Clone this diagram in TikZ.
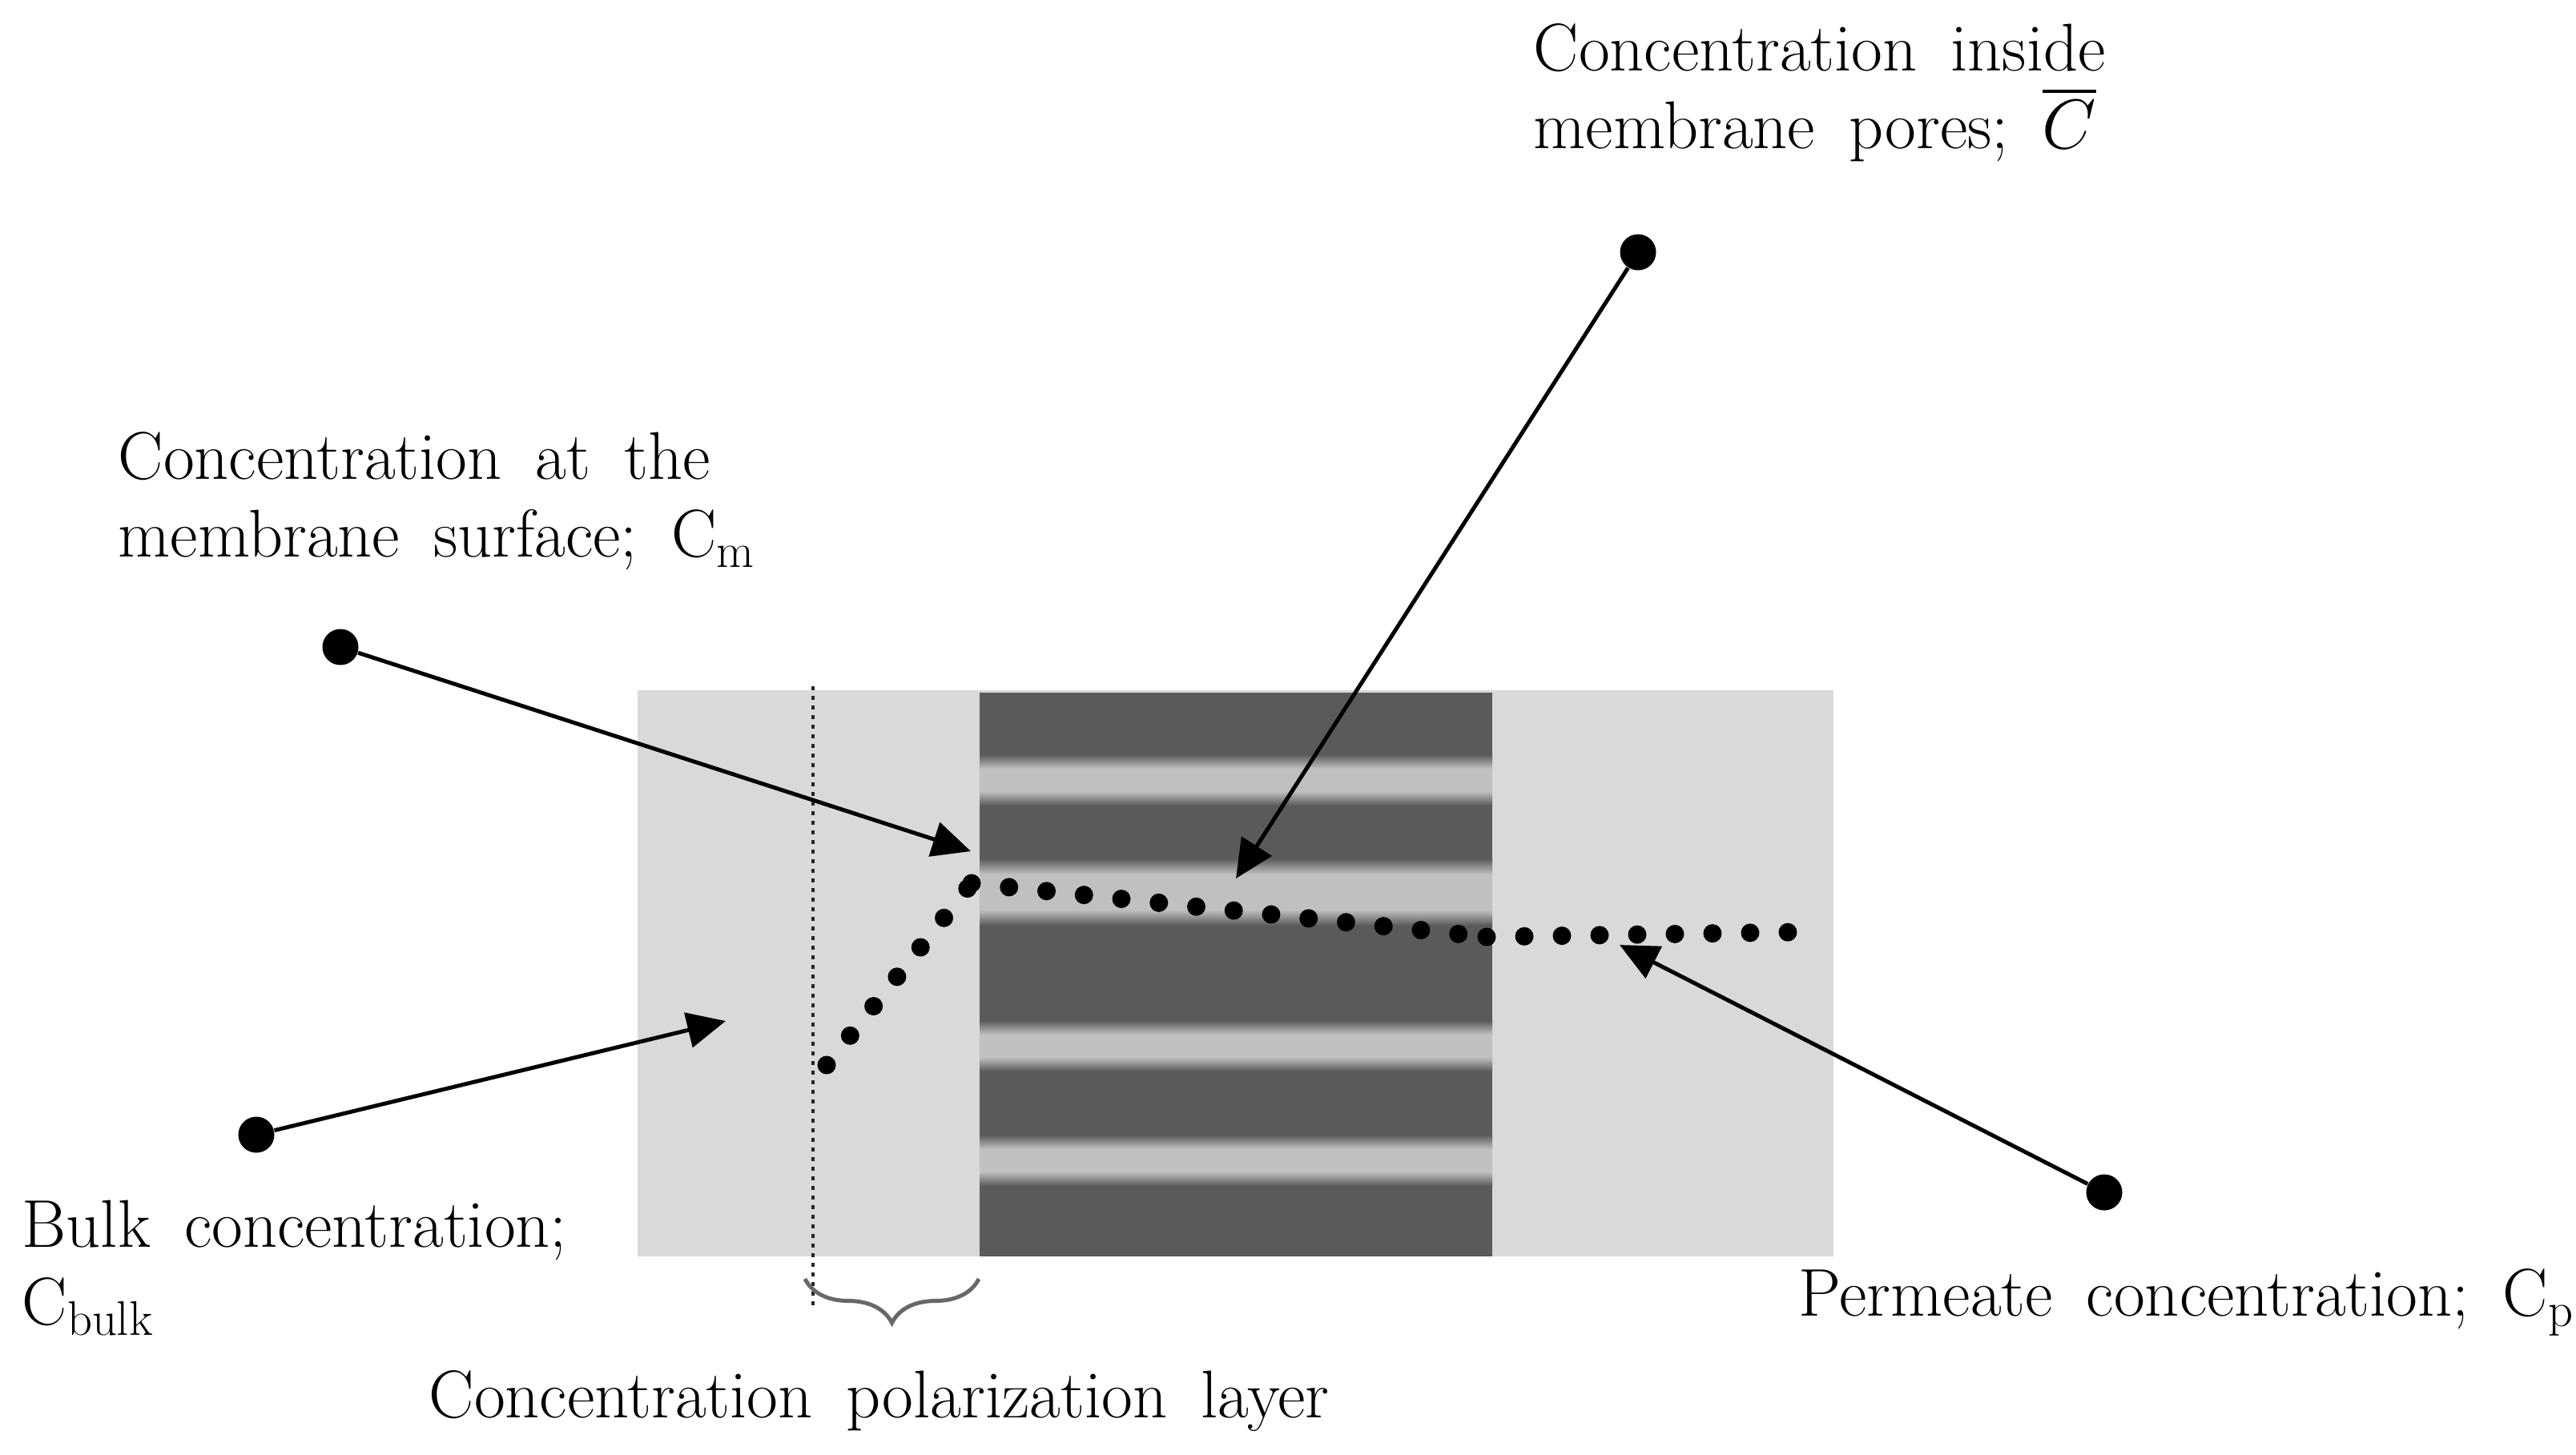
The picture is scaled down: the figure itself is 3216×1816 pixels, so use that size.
\documentclass[tikz,border=0pt]{standalone}
\usepackage{amsmath,amssymb}
\usepackage{tikz}
\usetikzlibrary{arrows.meta,positioning,decorations.pathreplacing}
\definecolor{MembDark}{HTML}{5A5A5A}
\definecolor{MembLight}{HTML}{C0C0C0}
\definecolor{SideGray}{HTML}{D9D9D9}
\definecolor{BraceGray}{HTML}{686868}

\tikzset{
  lbl/.style={font={\fontsize{24}{27.6}\selectfont\spaceskip=0.5em plus 0.1em minus 0.1em\relax}, inner sep=0pt, align=left},
  bigdot/.style={circle, fill=black, inner sep=0pt, minimum size=4.5mm},
  pointer/.style={line width=0.5mm, -{Triangle[length=4.8mm, width=4.4mm]}},
  conc/.style={line width=2.3mm, line cap=round, dash pattern=on 0pt off 4.7mm},
}

\begin{document}
\begin{tikzpicture}[x=0.1mm, y=-0.1mm]
\useasboundingbox (0,0) rectangle (3216,1816);

% Feed side, membrane and permeate side
\fill[SideGray] (796,862) rectangle (2289,1569);
\fill[MembDark] (1223,865) rectangle (1863,1569);

% Pores (light bands with soft edges)
\foreach \c/\p/\r in {974/14/18, 1114/22/20, 1306/14/18, 1449/14/18} {
  \shade[top color=MembDark, bottom color=MembLight] (1223,\c-\p-\r) rectangle (1863,\c-\p);
  \fill[MembLight] (1223,\c-\p) rectangle (1863,\c+\p);
  \shade[top color=MembLight, bottom color=MembDark] (1223,\c+\p) rectangle (1863,\c+\p+\r);
}

% Edge of the polarization layer
\draw[black!85, line width=0.35mm, dash pattern=on 0.5mm off 0.7mm] (1015,857) -- (1015,1630);

% Concentration profile
\coordinate (pBulk) at (1032,1330);
\coordinate (pWall) at (1213,1103);
\coordinate (pExit) at (1856,1170);
\coordinate (pEnd) at (2240,1164);
\draw[conc] (pBulk) -- (pWall);
\draw[conc] (pWall) -- (pExit);
\draw[conc] (pExit) -- (pEnd);

% Brace under the layer
\coordinate (brL) at (1005,1597);
\coordinate (brR) at (1222,1597);
\draw[BraceGray, line width=0.5mm, decorate, decoration={brace, mirror, amplitude=5.5mm}] (brL) -- (brR);

% Callouts
\node[bigdot] (dCm) at (425,808) {};
\node[bigdot] (dCbar) at (2045,315) {};
\node[bigdot] (dBulk) at (320,1417) {};
\node[bigdot] (dCp) at (2627,1489) {};
\coordinate (tCm) at (1212,1063);
\coordinate (tCbar) at (1543,1097);
\coordinate (tBulk) at (906,1275);
\coordinate (tCp) at (2022,1180);
\draw[pointer] (dCm) -- (tCm);
\draw[pointer] (dCbar) -- (tCbar);
\draw[pointer] (dBulk) -- (tBulk);
\draw[pointer] (dCp) -- (tCp);

% Labels
\node[lbl, anchor=north west] (lCbar) at (1914,29) {Concentration inside\\membrane pores; $\overline{C}$};
\node[lbl, anchor=north west] (lCm) at (147,539) {Concentration at the\\membrane surface; C$_\mathrm{m}$};
\node[lbl, anchor=north west] (lBulk) at (27,1498) {Bulk concentration;\\C$_\mathrm{bulk}$};
\node[lbl, anchor=base west] (lCp) at (2245,1643) {Permeate concentration; C$_\mathrm{p}$};
\node[lbl, anchor=base west] (lLayer) at (535,1770) {Concentration polarization layer};
\end{tikzpicture}
\end{document}
